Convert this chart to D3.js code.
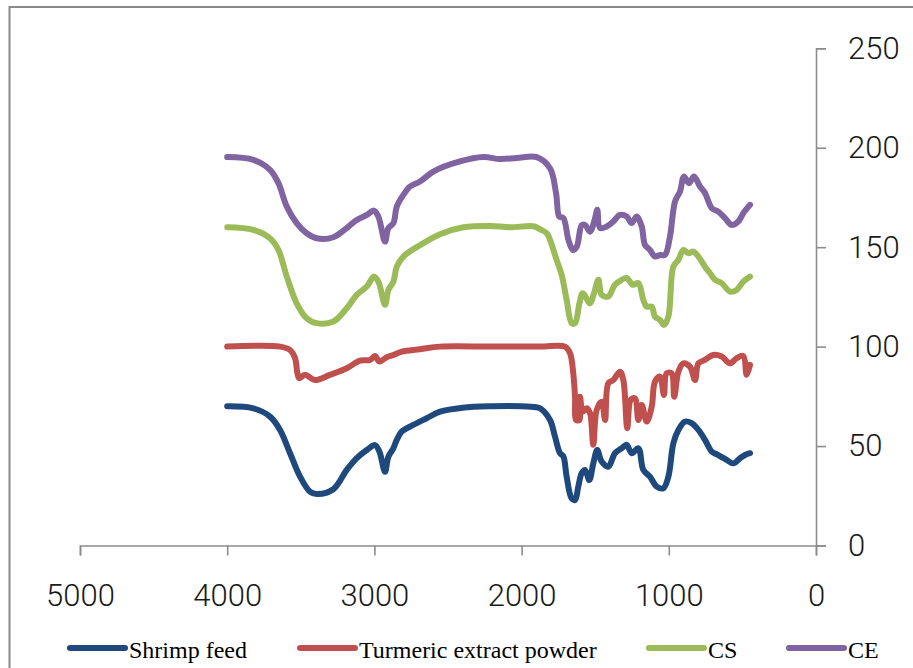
<!DOCTYPE html>
<html><head><meta charset="utf-8">
<script src="https://cdn.jsdelivr.net/npm/d3@7"></script>
<style>
html,body{margin:0;padding:0;background:#fff;}
svg{display:block;}
</style></head>
<body>
<svg id="chart" width="913" height="668"></svg>
<script>
// ---- data ----
const seriesNames = ["Shrimp feed", "Turmeric extract powder", "CS", "CE"];
const seriesColors = ["#1F497D", "#C0504D", "#9BBB59", "#8064A2"];
const xTicks = [5000, 4000, 3000, 2000, 1000, 0];
const yTicks = [0, 50, 100, 150, 200, 250];

const shrimpWn = [4000,3822,3709,3641,3573,3505,3438,3392,3279,3188,3120,3052,2996,2966,2928,2905,2871,2848,2815,2736,2645,2554,2400,2200,2000,1900,1875,1807,1773,1739,1716,1694,1660,1637,1615,1592,1569,1540,1513,1486,1456,1411,1366,1320,1286,1252,1207,1173,1128,1082,1037,1003,969,935,890,845,799,754,708,664,607,562,516,482,448];
const shrimpT = [70,69,64.8,58.1,46.4,34.6,27.1,25.9,28.3,38,43.9,48,50.5,47.2,37.1,44.7,48.9,53.1,57.2,60.6,64,67.3,69.3,70,70,69.5,69,63.1,54.7,46.4,44.7,34.6,23.7,22.9,29.6,36.3,38,32.9,41.3,48,42.2,39.6,46.4,48.9,50.6,46.4,48.9,38,34.6,29.6,28.8,34.6,51.4,58.1,62.3,61.5,58.1,53.1,47.2,45.5,43,41.3,43.9,45.5,46.4];

const turmericWn = [4000,3641,3573,3539,3523,3510,3471,3404,3302,3188,3098,3030,2996,2966,2916,2871,2815,2690,2554,2200,1875,1705,1671,1649,1637,1630,1607,1603,1585,1558,1535,1513,1490,1456,1433,1411,1377,1332,1309,1282,1259,1230,1207,1184,1150,1116,1094,1060,1033,1015,981,963,935,901,856,822,799,754,698,641,584,539,494,471,448];
const turmericT = [100,100,98.3,94.2,86.6,84.1,85.8,83.2,85.8,89.1,93,93.3,95.3,92.5,94.7,95.8,97.5,98.7,100,100,100,100,96.7,86.6,74.8,63.1,63.1,74.8,67.3,69,66.5,50.6,68.2,72.3,63.1,81.6,83.2,87.4,83.2,59,73.2,74,63.1,70.7,62.3,69.8,82.4,84.9,75.7,86.6,86.6,74.8,87.4,91.6,89.9,83.2,91.6,93.3,95.8,95,91.6,94.2,95.3,85.8,90.8];

const csWn = [4000,3822,3709,3652,3595,3528,3460,3392,3279,3188,3120,3052,3003,2973,2928,2905,2871,2848,2803,2690,2554,2396,2215,2079,1920,1875,1829,1807,1762,1728,1694,1660,1637,1607,1585,1535,1508,1478,1456,1411,1366,1320,1286,1245,1207,1173,1150,1116,1094,1060,1033,1003,969,935,901,867,833,799,754,720,686,641,584,539,494,448];
const csT = [160,158.7,154.5,148.6,135.2,121.8,114.3,111.8,112.6,119.3,126,130.2,135.2,132.7,121,128.5,132.7,140.2,145.3,151,156.5,160,160.7,160,160.5,159,157,153.7,143.6,136.1,123.5,111.8,111.8,121.8,126.8,121.8,126.8,133.6,126,125.2,131.1,133.6,134.5,131.1,131.9,123.5,120.1,120.1,115.1,113.4,110.9,115.1,140.2,143.6,148.6,147,147.8,145.3,140.2,136.9,133.6,131.9,127.7,128.5,132.7,135.2];

const ceWn = [4000,3822,3709,3652,3595,3528,3460,3392,3279,3188,3120,3052,3003,2973,2928,2905,2871,2848,2803,2758,2690,2600,2419,2260,2147,2033,1897,1807,1766,1744,1716,1682,1652,1625,1592,1569,1535,1501,1486,1467,1422,1377,1332,1286,1252,1218,1184,1162,1128,1094,1060,1026,992,958,924,897,863,829,788,754,708,664,618,573,528,494,448];
const ceT = [195.3,193.9,188.9,182.2,170.4,162.1,157,154.5,155,159.6,163.7,166.2,168.4,165.4,152.8,159.6,162.1,170.4,176.3,180.5,183,188,193.1,195.3,194.3,194.8,195.3,189.7,177.2,165.4,164.6,153.7,148.6,150.3,161,161.2,157.8,164.6,168.8,159.6,160.4,162.9,166.2,165.4,162.1,165.4,160.4,151.2,148.6,145.3,146.1,146.1,155.3,172.9,178,185.5,182.2,185.5,180.5,177.2,169.6,167.9,164.6,161.2,162.9,167.1,171.3];

const seriesWn = [shrimpWn, turmericWn, csWn, ceWn];
const seriesT = [shrimpT, turmericT, csT, ceT];

// ---- drawing ----
const svg = d3.select("#chart");
svg.append("rect").attr("x",0).attr("y",0).attr("width",913).attr("height",668).attr("fill","#fff");
svg.append("rect").attr("x",9.5).attr("y",7).attr("width",920).attr("height",700)
  .attr("fill","none").attr("stroke","#8a8a8a").attr("stroke-width",2);

const x = d3.scaleLinear().domain([5000,0]).range([80,816]);
const y = d3.scaleLinear().domain([0,250]).range([545.5,48.3]);

const axisColor = "#8c8c8c";
const tickFont = "Roboto, 'DejaVu Sans', sans-serif";

const gx = svg.append("g").attr("transform",`translate(0,${y(0)})`)
  .call(d3.axisBottom(x).tickValues(xTicks).tickSize(10).tickPadding(28).tickFormat(d3.format("d")));
const gy = svg.append("g").attr("transform",`translate(${x(0)},0)`)
  .call(d3.axisRight(y).tickValues(yTicks).tickSize(10).tickPadding(22).tickFormat(d3.format("d")));

[gx, gy].forEach(g => {
  g.selectAll("path.domain").attr("stroke",axisColor).attr("stroke-width",1.6);
  g.selectAll(".tick line").attr("stroke",axisColor).attr("stroke-width",1.6);
  g.selectAll(".tick text").attr("fill","#1a1a1a")
    .style("font-family",tickFont).style("font-size","31px").style("font-weight","300");
});
gx.selectAll(".tick text").attr("dy","0.71em");

const line = d3.line().curve(d3.curveCatmullRom.alpha(0.5))
  .x(d => x(d[0])).y(d => y(d[1]));

seriesNames.forEach((name, i) => {
  const pts = seriesWn[i].map((w, k) => [w, seriesT[i][k]]);
  svg.append("path").datum(pts).attr("d", line)
    .attr("fill","none").attr("stroke",seriesColors[i]).attr("stroke-width",6)
    .attr("stroke-linejoin","round").attr("stroke-linecap","round");
});

// legend
const legendX = [70, 300, 649, 789];
const legendY = 648;
seriesNames.forEach((name, i) => {
  const g = svg.append("g").attr("transform",`translate(${legendX[i]},${legendY})`);
  g.append("line").attr("x1",0).attr("x2",55).attr("y1",0).attr("y2",0)
    .attr("stroke",seriesColors[i]).attr("stroke-width",6).attr("stroke-linecap","round");
  g.append("text").attr("x",59).attr("y",10)
    .style("font-family","'Liberation Serif','Times New Roman',serif").style("font-size","24px")
    .attr("fill","#000").text(name);
});
</script>
</body></html>
